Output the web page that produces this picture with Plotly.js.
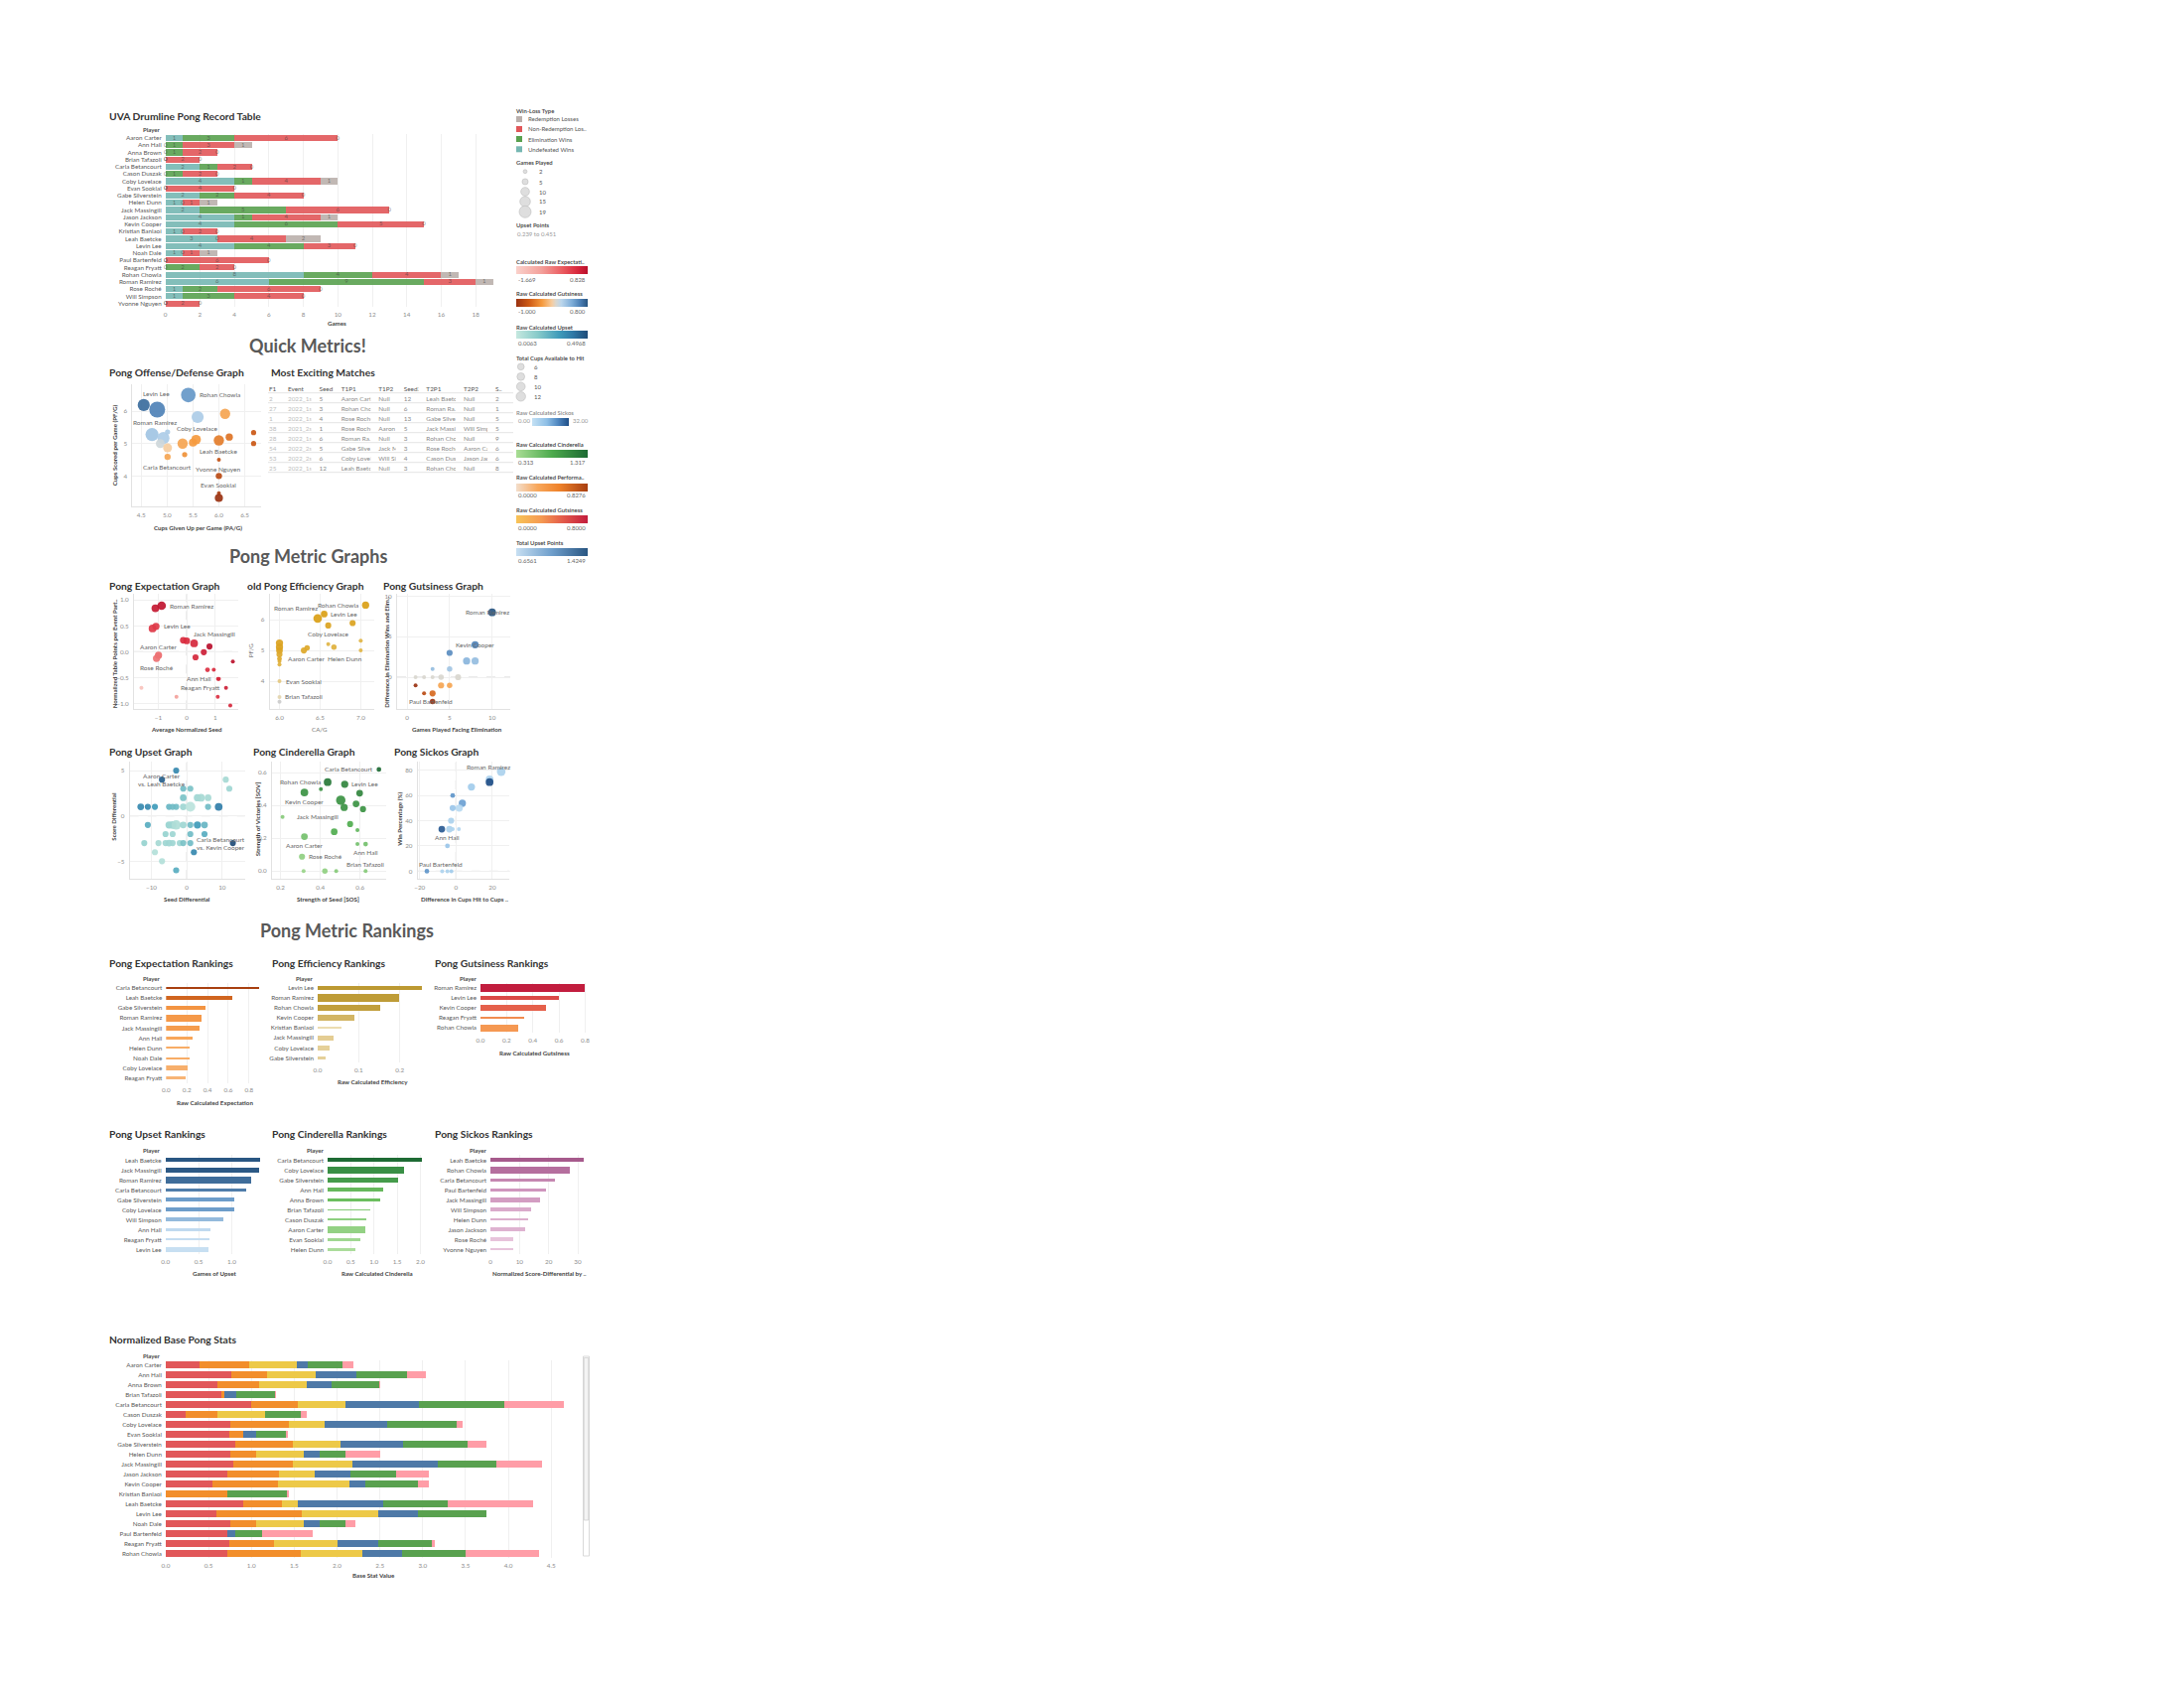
<!DOCTYPE html>
<html>
<head>
<meta charset="utf-8">
<script src="https://cdn.plot.ly/plotly-3.0.1.min.js"></script>
<style>
html,body{margin:0;padding:0;background:#ffffff;}
#chart{width:2200px;height:1700px;}
</style>
</head>
<body>
<div id="chart"></div>
<script>
// ================= DATA =================
// --- Record table ---
const recordPlayers = ["Aaron Carter","Ann Hall","Anna Brown","Brian Tafazoli","Carla Betancourt","Cason Duszak","Coby Lovelace","Evan Sooklal","Gabe Silverstein","Helen Dunn","Jack Massingill","Jason Jackson","Kevin Cooper","Kristian Banlaoi","Leah Baetcke","Levin Lee","Noah Dale","Paul Bartenfeld","Reagan Fryatt","Rohan Chowla","Roman Ramirez","Rose Roché","Will Simpson","Yvonne Nguyen"];
const undefeatedWins      = [1,0,0,0,2,0,4,0,2,1,2,4,4,1,3,4,1,0,0,8,6,1,1,0];
const eliminationWins     = [3,1,1,0,1,1,1,0,2,0,5,1,6,0,0,4,0,0,2,4,9,2,3,0];
const nonRedemptionLosses = [6,3,2,2,2,2,4,4,4,1,6,4,5,2,4,3,1,6,2,4,3,6,4,2];
const redemptionLosses    = [0,1,0,0,0,0,1,0,0,1,0,1,0,0,2,0,1,0,0,1,1,0,0,0];
const winLossTypes = ["Undefeated Wins","Elimination Wins","Non-Redemption Losses","Redemption Losses"];
const winLossLegend = ["Redemption Losses","Non-Redemption Los..","Elimination Wins","Undefeated Wins"];
const gamesLegend = [2,5,10,15,19];
const cupsLegend = [6,8,10,12];

// --- Offense / Defense ---
const odCupsGiven  = [4.55,4.81,5.41,6.12,5.59,4.71,4.93,5.01,4.87,5.01,5.01,5.30,5.56,5.50,5.34,6.00,6.20,6.67,6.67,6.00,6.00,6.00,6.00];
const odCupsScored = [6.19,6.05,6.50,5.92,5.82,5.28,5.17,5.36,5.00,4.87,4.59,5.00,5.12,5.03,4.66,5.10,5.20,5.34,5.00,4.50,4.00,3.47,3.32];
const odGames      = [11,19,16,8,11,13,11,2,6,6,3,8,7,5,2,8,4,2,2,1,3,1,5];
const odRating     = [0.7,0.6,0.5,-0.3,0.2,0.25,0.2,0.2,0.05,-0.1,-0.3,-0.3,-0.35,-0.35,-0.4,-0.5,-0.55,-0.7,-0.7,-0.75,-0.8,-0.9,-1.0];
const odPlayer     = ["Levin Lee","Roman Ramirez","Rohan Chowla","","Coby Lovelace","","","","","","Carla Betancourt","","","","","Leah Baetcke","","","","Yvonne Nguyen","Evan Sooklal","",""];

// --- Most exciting matches ---
const matchColumns = ["F1","Event","Seed1","T1P1","T1P2","Seed2","T2P1","T2P2","S.."];
const matchF1    = [2,27,1,38,28,54,53,25];
const matchEvent = ["2022_1s","2022_1s","2022_1s","2021_2s","2022_1s","2022_2s","2022_2s","2022_1s"];
const matchSeed1 = [5,3,4,1,6,5,6,12];
const matchT1P1  = ["Aaron Cart..","Rohan Cho..","Rose Roché","Rose Roché","Roman Ra..","Gabe Silve..","Coby Lovel..","Leah Baetc.."];
const matchT1P2  = ["Null","Null","Null","Aaron ..","Null","Jack M..","Will Si..","Null"];
const matchSeed2 = [12,6,13,5,3,3,4,3];
const matchT2P1  = ["Leah Baetc..","Roman Ra..","Gabe Silve..","Jack Massi..","Rohan Cho..","Rose Roché","Cason Dus..","Rohan Cho.."];
const matchT2P2  = ["Null","Null","Null","Will Simps..","Null","Aaron Car..","Jason Jac..","Null"];
const matchScore = [2,1,5,5,9,6,6,8];

// --- Expectation graph ---
const expSeed   = [-1.1,-0.88,-1.2,-1.08,-0.12,0.0,0.26,0.8,0.6,0.31,1.62,-0.99,-1.06,0.73,0.95,1.1,1.13,1.38,-1.59,-0.36,1.09,1.53];
const expPoints = [0.84,0.89,0.45,0.49,0.22,0.21,0.16,0.1,-0.01,-0.11,-0.19,-0.07,-0.13,-0.35,-0.35,-0.53,-0.53,-0.7,-0.7,-0.875,-0.875,-1.04];
const expRaw    = [0.7,0.75,0.3,0.3,0.45,0.45,0.5,0.828,0.6,0.5,0.8,-0.2,-0.3,0.4,0.45,0.5,0.5,0.6,-1.4,-0.8,0.4,0.5];
const expGames  = [8,10,8,7,6,6,8,5,5,5,2,7,7,3,2,2,2,2,2,2,2,1];
const expPlayer = ["","Roman Ramirez","","Levin Lee","","Jack Massingill","","","","","","Aaron Carter","Rose Roché","","","Ann Hall","","Reagan Fryatt","","","",""];

// --- Efficiency graph ---
const effCA    = [6.0,6.0,6.0,6.0,6.0,6.0,6.0,6.0,6.0,6.0,6.3,6.34,6.47,6.55,6.6,6.6,6.67,6.9,7.06,7.0,7.0];
const effPF    = [5.24,5.11,5.0,4.87,4.73,4.65,4.54,4.0,3.49,3.33,5.0,5.08,6.04,6.18,5.81,5.2,5.11,5.89,6.47,5.32,5.0];
const effGames = [7,7,6,5,3,2,1,1,1,2,5,4,10,6,5,2,4,5,7,1,1];
const effRaw   = [0.9,0.9,0.9,0.85,0.85,0.8,0.75,0.5,0.3,0.0,0.85,0.85,0.95,0.95,0.9,0.7,0.75,0.9,0.95,0.7,0.7];
const effPlayer = ["","","","","","","","Evan Sooklal","Brian Tafazoli","","Aaron Carter","","Roman Ramirez","Levin Lee","Coby Lovelace","","","","Rohan Chowla","","Helen Dunn"];

// --- Gutsiness graph ---
const gutsFacing = [10,8,5,7,8,3,5,1,2,3,4,6,4,5,1,2,3,3];
const gutsDiff   = [8,4,3,2,2,1,1,0,0,0,0,0,-1,-1,-1,-2,-2,-3];
const gutsRaw    = [0.8,0.6,0.55,0.35,0.3,0.3,0.25,0,0,0,0,0,-0.3,-0.3,-1.0,-0.8,-0.6,-1.0];
const gutsGames  = [8,7,5,7,7,2,4,1,2,2,4,5,5,4,1,2,5,4];
const gutsPlayer = ["Roman Ramirez","Kevin Cooper","","","","","","","","","","","","","","","","Paul Bartenfeld"];

// --- Upset graph ---
const upsSeedDiff  = [-3, -7,11, -1,1,12, -1,3,4,6, -13,-11,-9,-5,-4,-3,-1,1,6,9, -11,-5,-4,-3,-1,1,3,5, -6,-4,1,5, -12,-8,-6,-5,-4,-2,-1,1,13, -9,2, -7, -3];
const upsScoreDiff = [5, 4,4, 3,3,3, 2,2,2,2, 1,1,1,1,1,1,1,1,1,1, -1,-1,-1,-1,-1,-1,-1,-1, -2,-2,-2,-2, -3,-3,-3,-3,-3,-3,-3,-3,-3, -4,-4, -5, -6];
const upsRaw       = [0.35, 0.45,0.08, 0.2,0.18,0.1, 0.18,0.1,0.08,0.08, 0.35,0.35,0.3,0.22,0.2,0.2,0.1,0.03,0.2,0.38, 0.25,0.12,0.1,0.06,0.1,0.2,0.3,0.22, 0.12,0.1,0.2,0.25, 0.12,0.08,0.1,0.1,0.1,0.1,0.18,0.2,0.4968, 0.05,0.35, 0.05, 0.25];
const upsGames     = [5, 5,5, 5,5,5, 6,7,8,6, 6,5,5,5,5,5,6,13,5,8, 5,7,8,12,6,5,7,6, 5,5,5,5, 5,5,5,6,5,5,5,5,5, 5,5, 5, 5];
const upsMatch     = upsSeedDiff.map(()=>"");
upsMatch[1]  = "Aaron Carter<br>vs. Leah Baetcke";
upsMatch[40] = "Carla Betancourt<br>vs. Kevin Cooper";

// --- Cinderella graph ---
const cinSOS   = [0.32,0.437,0.403,0.523,0.503,0.52,0.21,0.47,0.32,0.308,0.316,0.423,0.48,0.695,0.598,0.58,0.615,0.55,0.587,0.587,0.628,0.628];
const cinSOV   = [0.48,0.543,0.5,0.53,0.432,0.388,0.33,0.24,0.21,0.088,0,0,0,0.62,0.475,0.41,0.378,0.287,0.25,0.165,0.165,0];
const cinRaw   = [1.0,1.2,1.0,1.1,1.0,1.0,0.5,0.8,0.6,0.45,0.4,0.45,0.5,1.317,1.1,1.0,1.0,0.8,0.7,0.6,0.6,0.5];
const cinGames = [8,8,1,7,12,7,1,6,6,5,1,4,2,3,6,6,5,5,2,1,3,1];
const cinPlayer = ["Kevin Cooper","Rohan Chowla","","Levin Lee","","Jack Massingill","","","Aaron Carter","Rose Roché","","","","Carla Betancourt","","","","","","","Ann Hall","Brian Tafazoli"];

// --- Sickos graph ---
const sickCupDiff = [24.9,18.5,18.5,8.5,-1.8,3.5,-1.8,1.8,-2.7,-7.8,-3.6,-1.8,1.6,-4.7,-16,-7.6,-4.7,-2.5];
const sickWinPct  = [78.9,72.7,70.6,66.7,60.0,53.8,50.0,50.0,40.0,33.3,33.3,33.3,33.3,20.0,0,0,0,0];
const sickRaw     = [6,5,32,8,20,18,10,3,6,30,6,5,4,10,20,5,6,8];
const sickGames   = [10,8,8,7,3,7,5,7,5,6,6,1,1,3,3,2,1,1];
const sickPlayer  = ["Roman Ramirez","","","","","","","","","","","","","Ann Hall","Paul Bartenfeld","","",""];

// --- Rankings ---
const expRankPlayers = ["Carla Betancourt","Leah Baetcke","Gabe Silverstein","Roman Ramirez","Jack Massingill","Ann Hall","Helen Dunn","Noah Dale","Coby Lovelace","Reagan Fryatt"];
const expRankValues  = [0.897,0.641,0.377,0.339,0.32,0.253,0.224,0.224,0.211,0.191];
const effRankPlayers = ["Levin Lee","Roman Ramirez","Rohan Chowla","Kevin Cooper","Kristian Banlaoi","Jack Massingill","Coby Lovelace","Gabe Silverstein"];
const effRankValues  = [0.254,0.198,0.152,0.0895,0.057,0.038,0.03,0.02];
const effRankShade   = [0.24,0.23,0.22,0.15,0.02,0.07,0.06,0.06];
const gutRankPlayers = ["Roman Ramirez","Levin Lee","Kevin Cooper","Reagan Fryatt","Rohan Chowla"];
const gutRankValues  = [0.8,0.6,0.5,0.333,0.286];
const upsRankPlayers = ["Leah Baetcke","Jack Massingill","Roman Ramirez","Carla Betancourt","Gabe Silverstein","Coby Lovelace","Will Simpson","Ann Hall","Reagan Fryatt","Levin Lee"];
const upsRankValues  = [1.4249,1.41,1.30,1.215,1.045,1.045,0.875,0.685,0.67,0.6561];
const cinRankPlayers = ["Carla Betancourt","Coby Lovelace","Gabe Silverstein","Ann Hall","Anna Brown","Brian Tafazoli","Cason Duszak","Aaron Carter","Evan Sooklal","Helen Dunn"];
const cinRankValues  = [2.036,1.657,1.52,1.19,1.13,0.914,0.843,0.807,0.7,0.607];
const cinRankWeight  = [9,17,13,9,5,1,3,19,7,5];
const sickRankPlayers = ["Leah Baetcke","Rohan Chowla","Carla Betancourt","Paul Bartenfeld","Jack Massingill","Will Simpson","Helen Dunn","Jason Jackson","Rose Roché","Yvonne Nguyen"];
const sickRankValues  = [32,27.3,22.1,19,17,13.9,13,11.9,8,8];

// --- Normalized base stats ---
const basePlayers = ["Aaron Carter","Ann Hall","Anna Brown","Brian Tafazoli","Carla Betancourt","Cason Duszak","Coby Lovelace","Evan Sooklal","Gabe Silverstein","Helen Dunn","Jack Massingill","Jason Jackson","Kevin Cooper","Kristian Banlaoi","Leah Baetcke","Levin Lee","Noah Dale","Paul Bartenfeld","Reagan Fryatt","Rohan Chowla"];
const baseStat1 = [0.394,0.769,0.607,0.649,1.0,0.232,0.753,0.742,0.811,0.753,0.788,0.719,0.545,0.0,0.904,0.591,0.753,0.719,0.742,0.719];
const baseStat2 = [0.58,0.417,0.483,0.039,0.541,0.371,0.684,0.162,0.672,0.301,0.696,0.603,0.765,0.719,0.452,0.997,0.301,0.0,0.522,0.858];
const baseStat3 = [0.553,0.564,0.556,0.0,0.56,0.556,0.417,0.0,0.553,0.553,0.7,0.421,0.838,0.0,0.185,0.896,0.553,0.0,0.746,0.719];
const baseStat4 = [0.135,0.479,0.29,0.139,0.854,0.0,0.73,0.151,0.738,0.189,0.99,0.417,0.182,0.0,1.0,0.464,0.189,0.097,0.475,0.464];
const baseStat5 = [0.402,0.591,0.556,0.448,1.0,0.417,0.811,0.348,0.75,0.301,0.688,0.529,0.614,0.696,0.75,0.8,0.301,0.309,0.622,0.742];
const baseStat6 = [0.128,0.22,0.008,0.008,0.688,0.066,0.066,0.027,0.22,0.406,0.533,0.383,0.128,0.027,1.0,0.0,0.12,0.595,0.031,0.854];

// ================= STYLE / LAYOUT HELPERS =================
const F = 'Lato, "Open Sans", "DejaVu Sans", sans-serif';
const GRID = '#F0F0F0', NUM = '#8E8E8E', CAT = '#5A5A5A', TTL = '#333333';
const W = 2200, H = 1700;
const fx = p => p / W, fy = p => 1 - p / H;
const gamesOf = name => { const i = recordPlayers.indexOf(name); return undefeatedWins[i] + eliminationWins[i] + nonRedemptionLosses[i] + redemptionLosses[i]; };
const thick = g => (3 + g) / 30;
const nb = arr => arr.map(v => String(v).replace(/ /g, '\u00A0'));

const CS_EXP  = [[0,'#FAD1CB'],[0.35,'#F3A19B'],[0.65,'#EA5A5F'],[0.85,'#D92B3E'],[1,'#B90F2C']];
const CS_DIV  = [[0,'#9A3211'],[0.18,'#CE5A15'],[0.36,'#F59A3E'],[0.5,'#F6CDA0'],[0.5556,'#D9D7CF'],[0.63,'#BCD6EC'],[0.78,'#7DADD8'],[0.9,'#4A7EB4'],[1,'#285581']];
const CS_UPS  = [[0,'#C5E8DF'],[0.3,'#88CBCA'],[0.6,'#3F9BBA'],[0.8,'#2E77A5'],[1,'#1F4C78']];
const CS_SICK = [[0,'#C4E1F4'],[0.4,'#8EBFE6'],[0.7,'#5088C1'],[1,'#1F4E87']];
const CS_CIN  = [[0,'#A9DD95'],[0.5,'#4DAA4D'],[1,'#1D6A33']];
const CS_PERF = [[0,'#F3DECB'],[0.3,'#F8A75B'],[0.6,'#EF822A'],[1,'#A83F10']];
const CS_GUTR = [[0,'#F8C457'],[0.35,'#F59A52'],[0.65,'#E35B4A'],[1,'#C21D3E']];
const CS_UPR  = [[0,'#C7DFF2'],[0.5,'#6E9ECB'],[1,'#295682']];
const CS_GOLD = [[0,'#F0E3BD'],[0.45,'#DCC07A'],[1,'#B9962C']];
const CS_EFFG = [[0,'#CCCCCC'],[0.35,'#E7D7A9'],[0.7,'#E1B547'],[1,'#D89A0C']];
const CS_CINR = [[0,'#B8E2A8'],[0.4,'#6DBF60'],[0.7,'#3F9648'],[1,'#1E6B34']];
const CS_PURP = [[0,'#EBCBE0'],[0.5,'#CF95BD'],[1,'#A65A8C']];
const WL_COLORS = ['#76B7B2','#59A14F','#E15759','#BAB0AC'];
const BASE_COLORS = ['#E15759','#F28E2B','#EDC948','#4E79A7','#59A14F','#FF9DA7'];

const layout = {
  width: W, height: H, margin: {l:0, r:0, t:0, b:0},
  paper_bgcolor: '#ffffff', plot_bgcolor: '#ffffff', showlegend: false, barmode: 'stack',
  font: {family: F, color: '#555'}, annotations: [], shapes: []
};
const traces = [];

function axPair(n, box, xo, yo) {
  const k = n === 1 ? '' : String(n);
  layout['xaxis' + k] = Object.assign({
    domain: [fx(box.l), fx(box.r)], anchor: 'y' + k, showgrid: true, gridcolor: GRID, gridwidth: 1,
    zeroline: false, showline: false, ticks: '', tickfont: {family: F, size: 6.3, color: NUM},
    fixedrange: true, ticklabelstandoff: 2
  }, xo || {});
  layout['yaxis' + k] = Object.assign({
    domain: [fy(box.b), fy(box.t)], anchor: 'x' + k, showgrid: true, gridcolor: GRID, gridwidth: 1,
    zeroline: false, showline: false, ticks: '', tickfont: {family: F, size: 6.3, color: NUM},
    fixedrange: true, ticklabelstandoff: 3
  }, yo || {});
}
function catAxis(players) {
  return {type: 'category', categoryorder: 'array', categoryarray: players, range: [players.length - 0.5, -0.5],
          tickmode: 'array', tickvals: players, ticktext: players,
          showgrid: false, tickfont: {family: F, size: 6.3, color: CAT}};
}
function note(text, x, y, o) {
  o = o || {};
  layout.annotations.push({
    xref: 'paper', yref: 'paper', x: fx(x), y: fy(y), text: text, showarrow: false,
    xanchor: o.anchor || 'left', yanchor: 'middle', textangle: o.angle || 0,
    font: {family: F, size: o.size || 6.3, color: o.color || '#555', weight: o.weight || 400}
  });
}
const title = (t, x, y) => note(t, x, y, {size: 10.3, color: TTL, weight: 700});
const section = (t, x, y) => note(t, x, y, {size: 18, color: '#595959', weight: 700, anchor: 'center'});
const xTitle = (t, x, y, o) => note(t, x, y, Object.assign({anchor: 'center', size: 6.2, color: '#444', weight: 700}, o || {}));
const yTitle = (t, x, y, o) => note(t, x, y, Object.assign({anchor: 'center', size: 6.2, color: '#444', weight: 700, angle: -90}, o || {}));
function cbar(left, top, len) {
  return {orientation: 'h', x: fx(left), xanchor: 'left', y: fy(top), yanchor: 'top', len: len, lenmode: 'pixels',
          thickness: 7.5, thicknessmode: 'pixels', outlinewidth: 0, xpad: 0, ypad: 0,
          showticklabels: false, ticks: '', title: {text: ''}};
}
function ptLabels(ax, xs, ys, names, place) {
  names.forEach((nm, i) => {
    if (!nm) return;
    const p = place[nm] || [0, 0, 'center'];
    layout.annotations.push({xref: 'x' + ax, yref: 'y' + ax, x: xs[i], y: ys[i], text: nm, showarrow: false,
      xanchor: p[2] || 'center', yanchor: 'middle', xshift: p[0], yshift: p[1],
      font: {family: F, size: 6.5, color: '#676767'}});
  });
}
function dashed(ax, dim) {
  const k = ax;
  if (dim === 'x') layout.shapes.push({type: 'line', xref: 'x' + k, yref: 'y' + k + ' domain', x0: 0, x1: 0, y0: 0, y1: 1, line: {color: '#C8C8C8', width: 0.8, dash: 'dash'}, layer: 'below'});
  else layout.shapes.push({type: 'line', xref: 'x' + k + ' domain', yref: 'y' + k, x0: 0, x1: 1, y0: 0, y1: 0, line: {color: '#C8C8C8', width: 0.8, dash: 'dash'}, layer: 'below'});
}
function bubble(ax, xs, ys, vals, games, cs, cmin, cmax, k, cb) {
  const m = {color: vals, colorscale: cs, cmin: cmin, cmax: cmax, size: games, sizemode: 'area',
             sizeref: 2 / (k * k), sizemin: 2, opacity: 0.92, line: {width: 0}};
  if (cb) { m.showscale = true; m.colorbar = cb; }
  traces.push({type: 'scatter', mode: 'markers', x: xs, y: ys, xaxis: 'x' + ax, yaxis: 'y' + ax, marker: m, hoverinfo: 'skip'});
}
const scatterAx = {showline: true, linecolor: '#E2E2E2', linewidth: 1};

// ================= 1. RECORD TABLE =================
axPair(1, {l: 166.7, r: 500, t: 135.4, b: 309.3},
  {range: [0, 19.2], tickvals: [0,2,4,6,8,10,12,14,16,18]},
  catAxis(recordPlayers));
const wlSeries = [undefeatedWins, eliminationWins, nonRedemptionLosses, redemptionLosses];
const cum = recordPlayers.map(() => 0);
wlSeries.forEach((vals, s) => {
  traces.push({type: 'bar', orientation: 'h', name: winLossTypes[s], x: vals, y: recordPlayers, xaxis: 'x', yaxis: 'y',
    width: 0.84, marker: {color: WL_COLORS[s], opacity: 0.9, line: {width: 0}}, hoverinfo: 'skip'});
  const mid = vals.map((v, i) => cum[i] + v / 2);
  traces.push({type: 'scatter', mode: 'text', x: mid, y: recordPlayers, text: vals.map(String), xaxis: 'x', yaxis: 'y',
    textfont: {family: F, size: 6, color: 'rgba(60,60,60,0.6)'}, textposition: 'middle center', cliponaxis: false, hoverinfo: 'skip'});
  vals.forEach((v, i) => cum[i] += v);
});
title('UVA Drumline Pong Record Table', 108, 117);
note('Player', 163.3, 131, {anchor: 'right', weight: 700, color: '#444', size: 6});
xTitle('Games', 339, 325);

// ---- Legends (right column) ----
const legT = (t, y, c) => note(t, 518, y, {size: 5.9, color: c || '#3A3A3A', weight: 600});
legT('Win-Loss Type', 111);
const wlLegendColors = ['#BAB0AC','#E15759','#59A14F','#76B7B2'];
[120, 130, 140, 150.3].forEach((cy, i) => {
  layout.shapes.push({type: 'rect', xref: 'paper', yref: 'paper', x0: fx(520), x1: fx(526), y0: fy(cy + 3), y1: fy(cy - 3), fillcolor: wlLegendColors[i], line: {width: 0}});
  note(winLossLegend[i], 529.5, cy, {size: 6, color: '#555'});
});
legT('Games Played', 164);
[172.7, 183, 193, 203, 213.3].forEach((cy, i) => {
  const d = 2.75 * Math.sqrt(gamesLegend[i]);
  layout.shapes.push({type: 'circle', xref: 'paper', yref: 'paper', x0: fx(529 - d / 2), x1: fx(529 + d / 2), y0: fy(cy + d / 2), y1: fy(cy - d / 2), fillcolor: '#DEDEDE', line: {color: '#BDBDBD', width: 0.6}});
  note(String(gamesLegend[i]), 540.5, cy, {size: 6, color: '#555'});
});
legT('Upset Points', 226.7);
note('0.239 to 0.451', 519, 236, {size: 6, color: '#999'});
const cbLabels = (t, ty, ly, lo, hi, tc) => { legT(t, ty, tc); note(lo, 520, ly, {size: 6, color: '#666'}); note(hi, 592, ly, {size: 6, color: '#666', anchor: 'right'}); };
cbLabels('Calculated Raw Expectati..', 263.3, 281, '-1.669', '0.828');
cbLabels('Raw Calculated Gutsiness', 295.7, 313.7, '-1.000', '0.800');
cbLabels('Raw Calculated Upset', 329.3, 345.7, '0.0063', '0.4968');
legT('Total Cups Available to Hit', 360.7);
[369.3, 379.3, 389.3, 399.3].forEach((cy, i) => {
  const d = 2.74 * Math.sqrt(cupsLegend[i]);
  layout.shapes.push({type: 'circle', xref: 'paper', yref: 'paper', x0: fx(524.7 - d / 2), x1: fx(524.7 + d / 2), y0: fy(cy + d / 2), y1: fy(cy - d / 2), fillcolor: '#DEDEDE', line: {color: '#BDBDBD', width: 0.6}});
  note(String(cupsLegend[i]), 536, cy, {size: 6, color: '#555'});
});
legT('Raw Calculated Sickos', 415, '#8A8A8A');
note('0.00', 520, 424, {size: 6, color: '#999'});
note('32.00', 575, 424, {size: 6, color: '#999'});
cbLabels('Raw Calculated Cinderella', 447.7, 465.7, '0.313', '1.317');
cbLabels('Raw Calculated Performa..', 480.7, 498.7, '0.0000', '0.8276');
cbLabels('Raw Calculated Gutsiness', 513.7, 531.3, '0.0000', '0.8000');
cbLabels('Total Upset Points', 546.7, 564.3, '0.6561', '1.4249');

// ================= 2. QUICK METRICS =================
section('Quick Metrics!', 310, 348.3);
title('Pong Offense/Defense Graph', 108, 375);
axPair(2, {l: 133.3, r: 263.3, t: 386.7, b: 510},
  Object.assign({range: [4.33, 6.82], tickvals: [4.5,5,5.5,6,6.5], tickformat: '.1f'}, scatterAx),
  Object.assign({range: [3.06, 6.84], tickvals: [4,5,6]}, scatterAx));
bubble(2, odCupsGiven, odCupsScored, odRating, odGames, CS_DIV, -1, 0.8, 3.67, null);
ptLabels(2, odCupsGiven, odCupsScored, odPlayer, {
  'Levin Lee': [13, 11], 'Rohan Chowla': [9, 0, 'left'], 'Roman Ramirez': [-2, -13], 'Coby Lovelace': [0, -12],
  'Leah Baetcke': [0, -10.6], 'Carla Betancourt': [0, -10], 'Yvonne Nguyen': [0, -9], 'Evan Sooklal': [0, -9.6]});
xTitle('Cups Given Up per Game (PA/G)', 199, 531.7);
yTitle('Cups Scored per Game (PF/G)', 115, 448.3);

// Most exciting matches table
title('Most Exciting Matches', 270.7, 375);
traces.push({type: 'table', domain: {x: [fx(263), fx(517)], y: [fy(500), fy(381.5)]},
  columnwidth: [19, 31.7, 22.3, 37.7, 25.6, 22.7, 37.7, 32.3, 25],
  header: {values: nb(matchColumns), align: 'left', height: 10, font: {family: F, size: 6.4, color: '#555'},
           fill: {color: 'rgba(0,0,0,0)'}, line: {width: 0, color: 'rgba(0,0,0,0)'}},
  cells: {values: [nb(matchF1), nb(matchEvent), nb(matchSeed1), nb(matchT1P1), nb(matchT1P2), nb(matchSeed2), nb(matchT2P1), nb(matchT2P2), nb(matchScore)],
          align: 'left', height: 10,
          font: {family: F, size: 6.4, color: ['#BDBDBD','#BDBDBD','#8A8A8A','#8A8A8A','#8A8A8A','#8A8A8A','#8A8A8A','#8A8A8A','#8A8A8A']},
          fill: {color: 'rgba(0,0,0,0)'}, line: {width: 0, color: 'rgba(0,0,0,0)'}}});
for (let r = 0; r <= matchF1.length; r++) {
  const yy = 395.7 + 10 * r;
  layout.shapes.push({type: 'line', xref: 'paper', yref: 'paper', x0: fx(270), x1: fx(517), y0: fy(yy), y1: fy(yy), line: {color: '#DCDCDC', width: 0.8}});
}

// ================= 3. METRIC GRAPHS =================
section('Pong Metric Graphs', 310, 559.6);

// Expectation graph
title('Pong Expectation Graph', 108, 590);
axPair(3, {l: 135, r: 240, t: 598.3, b: 714.3},
  Object.assign({range: [-1.85, 1.81], tickvals: [-1,0,1]}, scatterAx),
  Object.assign({range: [-1.115, 1.115], tickvals: [-1,-0.5,0,0.5,1], tickformat: '.1f'}, scatterAx));
dashed(3, 'x'); dashed(3, 'y');
bubble(3, expSeed, expPoints, expRaw, expGames, CS_EXP, -1.669, 0.828, 2.75, cbar(520, 268, 72));
ptLabels(3, expSeed, expPoints, expPlayer, {
  'Roman Ramirez': [6, 0, 'left'], 'Levin Lee': [6, 0, 'left'], 'Jack Massingill': [5, 7, 'left'],
  'Aaron Carter': [0, 8.7], 'Rose Roché': [0, -9], 'Ann Hall': [-5, 0, 'right'], 'Reagan Fryatt': [-4, 0, 'right']});
xTitle('Average Normalized Seed', 187.7, 734.3);
yTitle('Normalized Table Points per Event Part..', 115, 658.3);

// Efficiency graph
title('old Pong Efficiency Graph', 246.7, 590);
axPair(4, {l: 271.7, r: 377.3, t: 598.3, b: 714.3},
  Object.assign({range: [5.88, 7.17], tickvals: [6,6.5,7], tickformat: '.1f'}, scatterAx),
  Object.assign({range: [3.09, 6.83], tickvals: [4,5,6]}, scatterAx));
bubble(4, effCA, effPF, effRaw, effGames, CS_EFFG, 0, 1, 2.75, null);
ptLabels(4, effCA, effPF, effPlayer, {
  'Roman Ramirez': [-22, 10.5], 'Rohan Chowla': [-5, 0, 'right'], 'Levin Lee': [4, 0, 'left'],
  'Coby Lovelace': [0, -9], 'Aaron Carter': [3, -8.7], 'Helen Dunn': [-16, -8.7],
  'Evan Sooklal': [4, 0, 'left'], 'Brian Tafazoli': [3, 0, 'left']});
xTitle('CA/G', 322.3, 734.3, {weight: 400, color: '#777'});
yTitle('PF/G', 253.3, 655, {weight: 400, color: '#777'});

// Gutsiness graph
title('Pong Gutsiness Graph', 384.3, 590);
axPair(5, {l: 400, r: 514, t: 598.3, b: 714.3},
  Object.assign({range: [-1.17, 12.13], tickvals: [0,5,10]}, scatterAx),
  Object.assign({range: [-3.95, 10.25], tickvals: [0,5,10]}, scatterAx));
dashed(5, 'y');
bubble(5, gutsFacing, gutsDiff, gutsRaw, gutsGames, CS_DIV, -1, 0.8, 2.75, cbar(520, 301, 72));
ptLabels(5, gutsFacing, gutsDiff, gutsPlayer, {
  'Roman Ramirez': [-5, 0], 'Kevin Cooper': [0, 0], 'Paul Bartenfeld': [-2, 0]});
xTitle('Games Played Facing Elimination', 460.7, 734.3);
yTitle('Difference in Elimination Wins and Elim..', 390, 656.7);

// Upset graph
title('Pong Upset Graph', 108, 756.7);
axPair(6, {l: 130.7, r: 246.7, t: 766.7, b: 885},
  Object.assign({range: [-16.1, 16.4], tickvals: [-10,0,10]}, scatterAx),
  Object.assign({range: [-6.93, 6.02], tickvals: [-5,0,5]}, scatterAx));
dashed(6, 'x'); dashed(6, 'y');
bubble(6, upsSeedDiff, upsScoreDiff, upsRaw, upsGames, CS_UPS, 0.0063, 0.4968, 2.75, cbar(520, 333, 72));
ptLabels(6, upsSeedDiff, upsScoreDiff, upsMatch, {
  'Aaron Carter<br>vs. Leah Baetcke': [0, 0], 'Carla Betancourt<br>vs. Kevin Cooper': [-12, 0]});
xTitle('Seed Differential', 188.3, 905);
yTitle('Score Differential', 115, 821.7);

// Cinderella graph
title('Pong Cinderella Graph', 252.7, 756.7);
axPair(7, {l: 274, r: 389.3, t: 766.7, b: 885},
  Object.assign({range: [0.157, 0.733], tickvals: [0.2,0.4,0.6], tickformat: '.1f'}, scatterAx),
  Object.assign({range: [-0.047, 0.67], tickvals: [0,0.2,0.4,0.6], tickformat: '.1f'}, scatterAx));
bubble(7, cinSOS, cinSOV, cinRaw, cinGames, CS_CIN, 0.313, 1.317, 2.75, cbar(520, 452.7, 72));
ptLabels(7, cinSOS, cinSOV, cinPlayer, {
  'Carla Betancourt': [-4, 0, 'right'], 'Rohan Chowla': [-5, 0, 'right'], 'Levin Lee': [5, 0, 'left'],
  'Kevin Cooper': [0, -9.7], 'Jack Massingill': [-4, -9, 'right'], 'Aaron Carter': [0, -9.3],
  'Rose Roché': [5, 0, 'left'], 'Ann Hall': [0, -8], 'Brian Tafazoli': [0, 6.3]});
xTitle('Strength of Seed [SOS]', 330, 905);
yTitle('Strength of Victories [SOV]', 259.3, 825);

// Sickos graph
title('Pong Sickos Graph', 395, 756.7);
axPair(8, {l: 420.7, r: 513.3, t: 766.7, b: 885},
  Object.assign({range: [-21.1, 29.5], tickvals: [-20,0,20]}, scatterAx),
  Object.assign({range: [-6, 87.1], tickvals: [0,20,40,60,80]}, scatterAx));
dashed(8, 'x'); dashed(8, 'y');
bubble(8, sickCupDiff, sickWinPct, sickRaw, sickGames, CS_SICK, 0, 32, 2.75, cbar(536, 420.7, 37));
ptLabels(8, sickCupDiff, sickWinPct, sickPlayer, {
  'Roman Ramirez': [-13, 5], 'Ann Hall': [0, 8.3], 'Paul Bartenfeld': [14, 7.3]});
xTitle('Difference in Cups Hit to Cups ..', 468.3, 905);
yTitle('Win Percentage (%)', 401.7, 825);

// ================= 4. RANKINGS =================
section('Pong Metric Rankings', 349, 937);
function ranking(ax, box, players, values, colorVals, cs, cmin, cmax, xr, ticks, fmt, weights, cb) {
  axPair(ax, box, {range: xr, tickvals: ticks, tickformat: fmt}, catAxis(players));
  const m = {color: colorVals, colorscale: cs, cmin: cmin, cmax: cmax, line: {width: 0}};
  if (cb) { m.showscale = true; m.colorbar = cb; }
  traces.push({type: 'bar', orientation: 'h', x: values, y: players, xaxis: 'x' + ax, yaxis: 'y' + ax,
    width: weights.map(thick), marker: m, hoverinfo: 'skip'});
}
title('Pong Expectation Rankings', 108, 970);
note('Player', 163.3, 986, {anchor: 'right', weight: 700, color: '#444', size: 6});
ranking(9, {l: 167.3, r: 263.3, t: 990, b: 1090.7}, expRankPlayers, expRankValues, expRankValues, CS_PERF, 0, 0.8276,
  [0, 0.919], [0,0.2,0.4,0.6,0.8], '.1f', expRankPlayers.map(gamesOf), cbar(520, 486.7, 72));
xTitle('Raw Calculated Expectation', 216, 1110);

title('Pong Efficiency Rankings', 272.3, 970);
note('Player', 317.3, 986, {anchor: 'right', weight: 700, color: '#444', size: 6});
ranking(10, {l: 320, r: 430, t: 990, b: 1070.4}, effRankPlayers, effRankValues, effRankShade, CS_GOLD, 0, 0.25,
  [0, 0.266], [0,0.1,0.2], '.1f', effRankPlayers.map(gamesOf), null);
xTitle('Raw Calculated Efficiency', 375, 1089.5);

title('Pong Gutsiness Rankings', 436, 970);
note('Player', 481.7, 986, {anchor: 'right', weight: 700, color: '#444', size: 6});
ranking(11, {l: 484, r: 591.7, t: 990, b: 1040.3}, gutRankPlayers, gutRankValues, gutRankValues, CS_GUTR, 0, 0.8,
  [0, 0.8175], [0,0.2,0.4,0.6,0.8], '.1f', gutRankPlayers.map(gamesOf), cbar(520, 519, 72));
xTitle('Raw Calculated Gutsiness', 538.3, 1060);

title('Pong Upset Rankings', 108, 1142.3);
note('Player', 163.3, 1158.3, {anchor: 'right', weight: 700, color: '#444', size: 6});
ranking(12, {l: 166.7, r: 263.3, t: 1163.3, b: 1263.3}, upsRankPlayers, upsRankValues, upsRankValues, CS_UPR, 0.6561, 1.4249,
  [0, 1.448], [0,0.5,1.0], '.1f', upsRankPlayers.map(gamesOf), cbar(520, 551.7, 72));
xTitle('Games of Upset', 216, 1282.3);

title('Pong Cinderella Rankings', 272.3, 1142.3);
note('Player', 327.7, 1158.3, {anchor: 'right', weight: 700, color: '#444', size: 6});
ranking(13, {l: 330, r: 430, t: 1163.3, b: 1263.3}, cinRankPlayers, cinRankValues, cinRankValues, CS_CINR, 0.5, 2.04,
  [0, 2.14], [0,0.5,1,1.5,2], '.1f', cinRankWeight, null);
xTitle('Raw Calculated Cinderella', 380, 1282.3);

title('Pong Sickos Rankings', 436, 1142.3);
note('Player', 491.7, 1158.3, {anchor: 'right', weight: 700, color: '#444', size: 6});
ranking(14, {l: 494, r: 591.7, t: 1163.3, b: 1263.3}, sickRankPlayers, sickRankValues, sickRankValues, CS_PURP, 6, 32,
  [0, 33.3], [0,10,20,30], null, sickRankPlayers.map(gamesOf), null);
xTitle('Normalized Score-Differential by ..', 543.3, 1282.7);

// ================= 5. NORMALIZED BASE STATS =================
title('Normalized Base Pong Stats', 108, 1349.3);
note('Player', 163.3, 1365, {anchor: 'right', weight: 700, color: '#444', size: 6});
axPair(15, {l: 166.9, r: 585, t: 1369.7, b: 1569.3},
  {range: [0, 4.845], tickvals: [0,0.5,1,1.5,2,2.5,3,3.5,4,4.5], tickformat: '.1f'}, catAxis(basePlayers));
[baseStat1, baseStat2, baseStat3, baseStat4, baseStat5, baseStat6].forEach((vals, s) => {
  traces.push({type: 'bar', orientation: 'h', name: 'Base stat ' + (s + 1), x: vals, y: basePlayers, xaxis: 'x15', yaxis: 'y15',
    width: 0.74, marker: {color: BASE_COLORS[s], line: {width: 0}}, hoverinfo: 'skip'});
});
xTitle('Base Stat Value', 376.7, 1586.7);
// scrollbar
layout.shapes.push({type: 'rect', xref: 'paper', yref: 'paper', x0: fx(587.5), x1: fx(593.5), y0: fy(1567), y1: fy(1366), fillcolor: '#FFFFFF', line: {color: '#CFCFCF', width: 0.8}});
layout.shapes.push({type: 'rect', xref: 'paper', yref: 'paper', x0: fx(588.3), x1: fx(592.7), y0: fy(1531), y1: fy(1367.5), fillcolor: '#F3F3F3', line: {color: '#C4C4C4', width: 0.6}});

Plotly.newPlot('chart', traces, layout, {staticPlot: true, displayModeBar: false});
</script>
</body>
</html>
